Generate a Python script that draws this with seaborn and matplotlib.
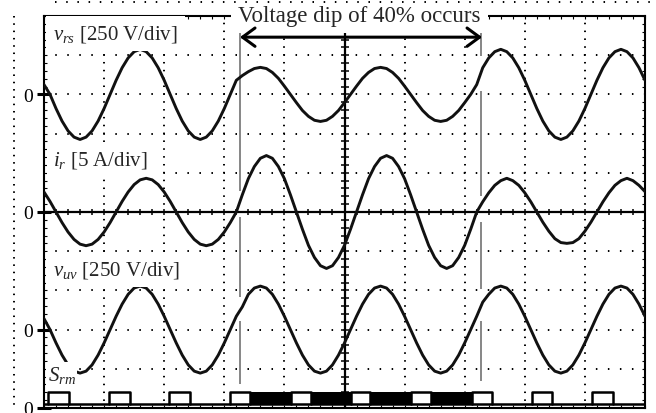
import numpy as np
import pandas as pd
import matplotlib
matplotlib.use("Agg")
import matplotlib.pyplot as plt
from matplotlib.lines import Line2D
import seaborn as sns

sns.set_style("ticks")
plt.rcParams['font.family'] = ['Liberation Serif', 'DejaVu Serif']
plt.rcParams['mathtext.fontset'] = 'custom'
plt.rcParams['mathtext.rm'] = 'Liberation Serif'
plt.rcParams['mathtext.it'] = 'Liberation Serif:italic'
plt.rcParams['lines.scale_dashes'] = False

# scope time axis in divisions, one reading every 0.1 div
t_div = np.arange(101) / 10

# traces in divisions
v_rs = [0.25, 0, -0.36, -0.68, -0.93, -1.09, -1.15, -1.09, -0.93, -0.68,
        -0.36, 0, 0.36, 0.68, 0.93, 1.09, 1.15, 1.09, 0.93, 0.68,
        0.36, 0, -0.36, -0.68, -0.93, -1.09, -1.15, -1.09, -0.93, -0.68,
        -0.36, 0, 0.36, 0.48, 0.58, 0.66, 0.69, 0.66, 0.56, 0.41,
        0.21, 0, -0.21, -0.41, -0.56, -0.66, -0.69, -0.66, -0.56, -0.41,
        -0.21, 0, 0.21, 0.41, 0.56, 0.66, 0.69, 0.66, 0.56, 0.41,
        0.21, 0, -0.21, -0.41, -0.56, -0.66, -0.69, -0.66, -0.56, -0.41,
        -0.21, 0, 0.25, 0.68, 0.93, 1.09, 1.15, 1.09, 0.93, 0.68,
        0.36, 0, -0.36, -0.68, -0.93, -1.09, -1.15, -1.09, -0.93, -0.68,
        -0.36, 0, 0.36, 0.68, 0.93, 1.09, 1.15, 1.09, 0.93, 0.68,
        0.36]

i_r = [0.51, 0.27, 0, -0.27, -0.51, -0.70, -0.82, -0.86, -0.82, -0.70,
       -0.51, -0.27, 0, 0.27, 0.51, 0.70, 0.82, 0.86, 0.82, 0.70,
       0.51, 0.27, 0, -0.27, -0.51, -0.70, -0.82, -0.86, -0.82, -0.70,
       -0.51, -0.27, 0, 0.44, 0.85, 1.16, 1.37, 1.44, 1.37, 1.16,
       0.85, 0.44, 0, -0.44, -0.85, -1.16, -1.37, -1.44, -1.37, -1.16,
       -0.85, -0.44, 0, 0.44, 0.85, 1.16, 1.37, 1.44, 1.37, 1.16,
       0.85, 0.44, 0, -0.44, -0.85, -1.16, -1.37, -1.44, -1.37, -1.16,
       -0.85, -0.44, 0, 0.26, 0.49, 0.68, 0.80, 0.86, 0.80, 0.68,
       0.49, 0.26, 0, -0.26, -0.49, -0.68, -0.78, -0.80, -0.78, -0.68,
       -0.49, -0.26, 0, 0.26, 0.49, 0.68, 0.80, 0.86, 0.80, 0.68,
       0.52]

v_uv = [0.28, 0, -0.34, -0.65, -0.90, -1.06, -1.11, -1.06, -0.90, -0.65,
        -0.34, 0, 0.34, 0.65, 0.90, 1.06, 1.11, 1.06, 0.90, 0.65,
        0.34, 0, -0.34, -0.65, -0.90, -1.06, -1.11, -1.06, -0.90, -0.65,
        -0.34, 0, 0.34, 0.58, 0.90, 1.06, 1.11, 1.06, 0.90, 0.65,
        0.34, 0, -0.34, -0.65, -0.90, -1.06, -1.11, -1.06, -0.90, -0.65,
        -0.34, 0, 0.34, 0.65, 0.90, 1.06, 1.11, 1.06, 0.90, 0.65,
        0.34, 0, -0.34, -0.65, -0.90, -1.06, -1.11, -1.06, -0.90, -0.65,
        -0.34, 0, 0.34, 0.70, 0.90, 1.06, 1.11, 1.06, 0.90, 0.65,
        0.34, 0, -0.34, -0.65, -0.90, -1.06, -1.11, -1.06, -0.90, -0.65,
        -0.34, 0, 0.34, 0.65, 0.90, 1.06, 1.11, 1.06, 0.90, 0.65,
        0.34]

# S_rm gate signal: slow pulses, plus fast switching during the dip
srm_on = [0.07, 1.08, 2.08, 3.09, 4.11, 5.11, 6.11, 7.12, 8.12, 9.12]
srm_off = [0.42, 1.43, 2.43, 3.43, 4.44, 5.42, 6.44, 7.45, 8.45, 9.47]
srm_fast_start = [3.43, 4.44, 5.42, 6.44]
srm_fast_end = [4.11, 5.11, 6.11, 7.12]
srm_low = 0.09
srm_high = 0.42

dip_start = 3.26
dip_end = 7.27

channel_labels = [r'$v_{rs}$ [250 V/div]', r'$i_r$ [5 A/div]',
                  r'$v_{uv}$ [250 V/div]', r'$S_{rm}$']
title = 'Voltage dip of 40% occurs'

df = pd.DataFrame({'t': t_div, 'vrs': v_rs, 'ir': i_r, 'vuv': v_uv})

fig = plt.figure(figsize=(6.56, 4.14), dpi=100)
ax = fig.add_axes([44 / 656, 5 / 414, 601 / 656, 392 / 414])

# dotted graticule
for k in range(1, 10):
    if k == 5:
        continue
    ax.axvline(k, color='k', lw=1.4, ls=(0.55, (1.1, 4.55)), zorder=1)
    ax.axhline(k, color='k', lw=1.4, ls=(0.55, (1.1, 7.55)), zorder=1)
ax.axvline(5, color='k', lw=1.6, zorder=1.5)
ax.axhline(5, color='k', lw=1.6, zorder=1.5)
marks = np.linspace(0, 10, 51)
ax.plot(marks, [5] * len(marks), ls='none', marker='|', ms=5, mew=1.1, color='k')
ax.plot([5] * len(marks), marks, ls='none', marker='_', ms=6, mew=1.1, color='k')

# traces, each channel on its own zero level
offsets = {'vrs': 8, 'ir': 5, 'vuv': 2}
for col, off in offsets.items():
    sns.lineplot(x=df['t'], y=df[col] + off, ax=ax, color='#111111', lw=2.1,
                 estimator=None, sort=False, zorder=3)

# gate signal
ax.plot([0, 10], [srm_low, srm_low], color='k', lw=1.8, zorder=3)
for a, b in zip(srm_on, srm_off):
    ax.plot([a, a, b, b], [srm_low, srm_high, srm_high, srm_low], color='k', lw=1.8, zorder=3)
for a, b in zip(srm_fast_start, srm_fast_end):
    ax.fill_between([a, b], srm_low, srm_high, color='k', lw=0, zorder=3)

# dip markers
for a, b in [(9.72, 5.54), (4.87, 2.83), (2.22, 0.61)]:
    ax.vlines(dip_start, b, a, color='#666666', lw=1.1, zorder=2)
for a, b in [(9.72, 8.98), (8.09, 5.41), (4.74, 3.04), (2.22, 0.69)]:
    ax.vlines(dip_end, b, a, color='#666666', lw=1.1, zorder=2)
ax.annotate('', xy=(dip_end + 0.02, 9.46), xytext=(dip_start, 9.46),
            arrowprops=dict(arrowstyle='<->,head_length=0.45,head_width=0.33',
                            lw=2.2, color='k', shrinkA=0, shrinkB=0,
                            mutation_scale=20), zorder=6)
ax.text(5.25, 9.88, title, ha='center', va='baseline', fontsize=16.5,
        bbox=dict(fc='white', ec='none', pad=5), zorder=5)

# channel labels
ax.text(0.15, 9.43, channel_labels[0], fontsize=15, va='baseline',
        bbox=dict(fc='white', ec='none', pad=5), zorder=4)
ax.text(0.15, 6.22, channel_labels[1], fontsize=15, va='baseline',
        bbox=dict(fc='white', ec='none', pad=4), zorder=4)
ax.text(0.15, 3.40, channel_labels[2], fontsize=15, va='baseline',
        bbox=dict(fc='white', ec='none', pad=5), zorder=4)
ax.text(0.06, 0.72, channel_labels[3], fontsize=15, va='baseline',
        bbox=dict(fc='white', ec='none', pad=1), zorder=4)

ax.set_xlim(0, 10)
ax.set_ylim(0, 10)
ax.set_xlabel('')
ax.set_ylabel('')

# zero markers of the channels
ax.set_yticks([0, 2, 5, 8])
ax.set_yticklabels(['0'] * 4)
ax.set_xticks([])
ax.set_xticks(marks, minor=True)
ax.set_yticks(marks, minor=True)
ax.tick_params(axis='y', which='major', direction='inout', length=9.5, width=2.2,
               labelsize=14, pad=3, color='k', labelcolor='k')
ax.tick_params(which='minor', direction='in', length=2.4, width=0.8,
               top=True, right=True, bottom=True, left=True, color='k')
for s in ax.spines.values():
    s.set_color('k')
    s.set_linewidth(1.5)

# dotted outline around the screenshot
fig.add_artist(Line2D([55 / 656, 1], [1 - 3 / 414] * 2, transform=fig.transFigure,
                      color='k', lw=1.4, ls=(0, (1.1, 6.96))))
fig.add_artist(Line2D([14 / 656] * 2, [1 - 17 / 414, 1 - 409 / 414],
                      transform=fig.transFigure, color='k', lw=1.4,
                      ls=(0, (1.1, 4.16))))

fig.savefig('out.png', dpi=100)
